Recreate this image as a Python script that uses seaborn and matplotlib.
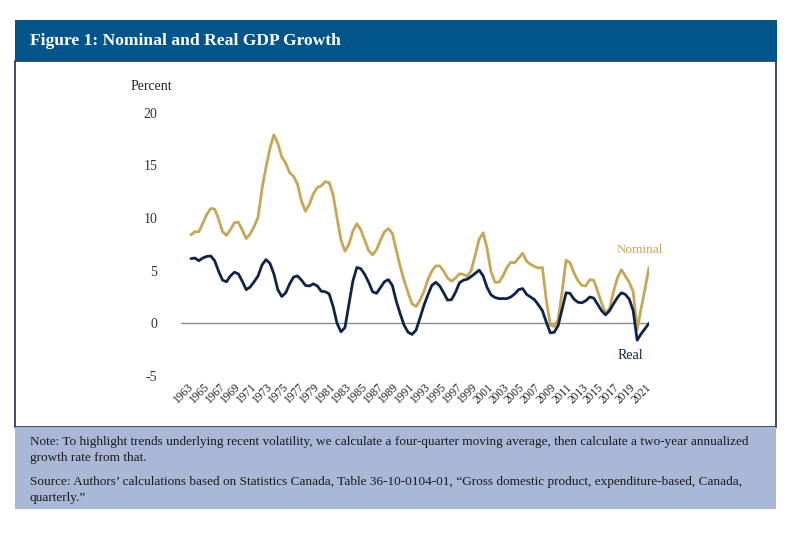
import numpy as np
import pandas as pd
import seaborn as sns
from matplotlib import pyplot as plt
from matplotlib.patches import Rectangle

# Half-yearly points (two-year annualized growth, %)
periods = np.arange(1963.5, 2021.51, 0.5)

nominal = [8.4, 8.7, 8.7, 9.5, 10.35, 10.9, 10.85, 9.9, 8.7, 8.35,
           8.9, 9.55, 9.6, 8.85, 8.05, 8.5, 9.2, 10.1, 12.8, 14.8,
           16.6, 17.9, 17.1, 15.8, 15.2, 14.3, 13.95, 13.2, 11.6, 10.65,
           11.3, 12.3, 12.9, 13.05, 13.45, 13.35, 12.2, 10.0, 7.9, 6.85,
           7.5, 8.75, 9.45, 8.9, 7.9, 6.9, 6.5, 7.0, 7.9, 8.7,
           9.0, 8.55, 6.95, 5.4, 4.05, 2.9, 1.85, 1.6, 2.2, 3.0,
           4.15, 4.95, 5.45, 5.45, 4.95, 4.3, 4.0, 4.3, 4.7, 4.65,
           4.45, 5.05, 6.5, 8.0, 8.6, 7.1, 4.9, 3.9, 3.9, 4.5,
           5.3, 5.8, 5.75, 6.2, 6.65, 5.9, 5.6, 5.4, 5.25, 5.3,
           2.2, -0.15, -0.3, 0.4, 3.0, 6.0, 5.75, 4.8, 4.05, 3.6,
           3.55, 4.15, 4.1, 3.05, 1.9, 1.0, 1.4, 3.0, 4.3, 5.1,
           4.5, 3.9, 3.0, -0.6, 1.4, 3.3, 5.3]

real = [6.15, 6.2, 5.95, 6.2, 6.35, 6.4, 5.95, 4.95, 4.1, 3.95,
        4.5, 4.85, 4.7, 4.0, 3.2, 3.45, 3.95, 4.5, 5.55, 6.05,
        5.7, 4.7, 3.2, 2.55, 2.9, 3.75, 4.4, 4.5, 4.1, 3.6,
        3.55, 3.75, 3.55, 3.05, 3.0, 2.8, 1.6, 0.0, -0.8, -0.4,
        1.8, 4.0, 5.3, 5.2, 4.65, 3.9, 3.0, 2.85, 3.4, 3.95,
        4.15, 3.6, 2.1, 0.9, -0.2, -0.85, -1.05, -0.65, 0.5, 1.7,
        2.7, 3.6, 3.9, 3.55, 2.9, 2.2, 2.25, 2.95, 3.85, 4.1,
        4.2, 4.45, 4.75, 5.05, 4.5, 3.4, 2.7, 2.45, 2.35, 2.35,
        2.35, 2.5, 2.8, 3.2, 3.3, 2.75, 2.5, 2.25, 1.75, 1.2,
        0.1, -0.9, -0.85, -0.2, 1.35, 2.9, 2.85, 2.3, 2.0, 1.95,
        2.15, 2.5, 2.4, 1.8, 1.2, 0.8, 1.2, 1.85, 2.45, 2.9,
        2.75, 2.3, 1.2, -1.6, -1.0, -0.5, 0.0]

year_ticks = list(range(1963, 2022, 2))
y_ticks = [-5, 0, 5, 10, 15, 20]

GOLD = '#C7A656'
NAVY = '#0D2348'
BLUE = '#02558B'

df = pd.DataFrame({'periodo': list(periods) * 2,
                   'valor': nominal + real,
                   'serie': ['Nominal'] * len(nominal) + ['Real'] * len(real)})

sns.set_style('white')
plt.rcParams['font.family'] = ['Liberation Serif', 'DejaVu Serif']

fig = plt.figure(figsize=(8, 5.35), dpi=100)
W, H = 800, 535

def box(x0, y0, x1, y1, **kw):
    # pixel coords from the top-left corner
    r = Rectangle((x0 / W, 1 - y1 / H), (x1 - x0) / W, (y1 - y0) / H,
                  transform=fig.transFigure, zorder=-5, **kw)
    fig.add_artist(r)

box(15, 61, 776, 427, facecolor='white', edgecolor='#1C2F55', linewidth=1.2)
box(15, 427, 776, 509, facecolor='#A9B8D6', edgecolor='none')
box(15, 20, 777, 61, facecolor=BLUE, edgecolor='none')

fig.text(30 / W, 1 - 41 / H, 'Figure 1: Nominal and Real GDP Growth',
         color='white', fontsize=12.6, fontweight='bold', va='center', ha='left')

ax = fig.add_axes([181 / W, 1 - 376 / H, 468 / W, 263.3 / H])
ax.set_facecolor('none')
ax.set_zorder(5)
sns.lineplot(data=df, x='periodo', y='valor', hue='serie',
             palette={'Nominal': GOLD, 'Real': NAVY}, linewidth=2,
             legend=False, ax=ax)
ax.axhline(0, color='#8C8C8C', linewidth=1, zorder=0)

ax.set_xlim(1962.24, 2021.5)
ax.set_ylim(-5, 20)
ax.set_xticks(year_ticks)
ax.set_xticklabels([str(y) for y in year_ticks], rotation=45, ha='right',
                   va='top', rotation_mode='anchor', fontsize=8.3, color='#222222')
ax.set_yticks(y_ticks)
ax.set_yticklabels([str(v) for v in y_ticks], fontsize=10, color='#333333')
ax.tick_params(axis='y', length=0, pad=17)
ax.tick_params(axis='x', length=0, pad=4)
ax.set_xlabel('')
ax.set_ylabel('')
sns.despine(ax=ax, left=True, bottom=True)

ax.text(2017.43, 6.93, 'Nominal', color=GOLD, fontsize=9.5, va='center', ha='left')
ax.text(2017.56, -3.04, 'Real', color=NAVY, fontsize=10, va='center', ha='left')

fig.text(151 / W, 1 - 87 / H, 'Percent', fontsize=10, color='#222222',
         ha='center', va='center')

nota = ('Note: To highlight trends underlying recent volatility, we calculate a four-quarter moving average, then calculate a two-year annualized\n'
        'growth rate from that.')
fuente = ('Source: Authors\u2019 calculations based on Statistics Canada, Table 36-10-0104-01, \u201cGross domestic product, expenditure-based, Canada,\n'
          'quarterly.\u201d')
fig.text(30 / W, 1 - 436 / H, nota, fontsize=9.5, color='#1A1A1A', va='top',
         ha='left', linespacing=1.5)
fig.text(30 / W, 1 - 476 / H, fuente, fontsize=9.5, color='#1A1A1A', va='top',
         ha='left', linespacing=1.5)

fig.savefig('out.png', dpi=100)
